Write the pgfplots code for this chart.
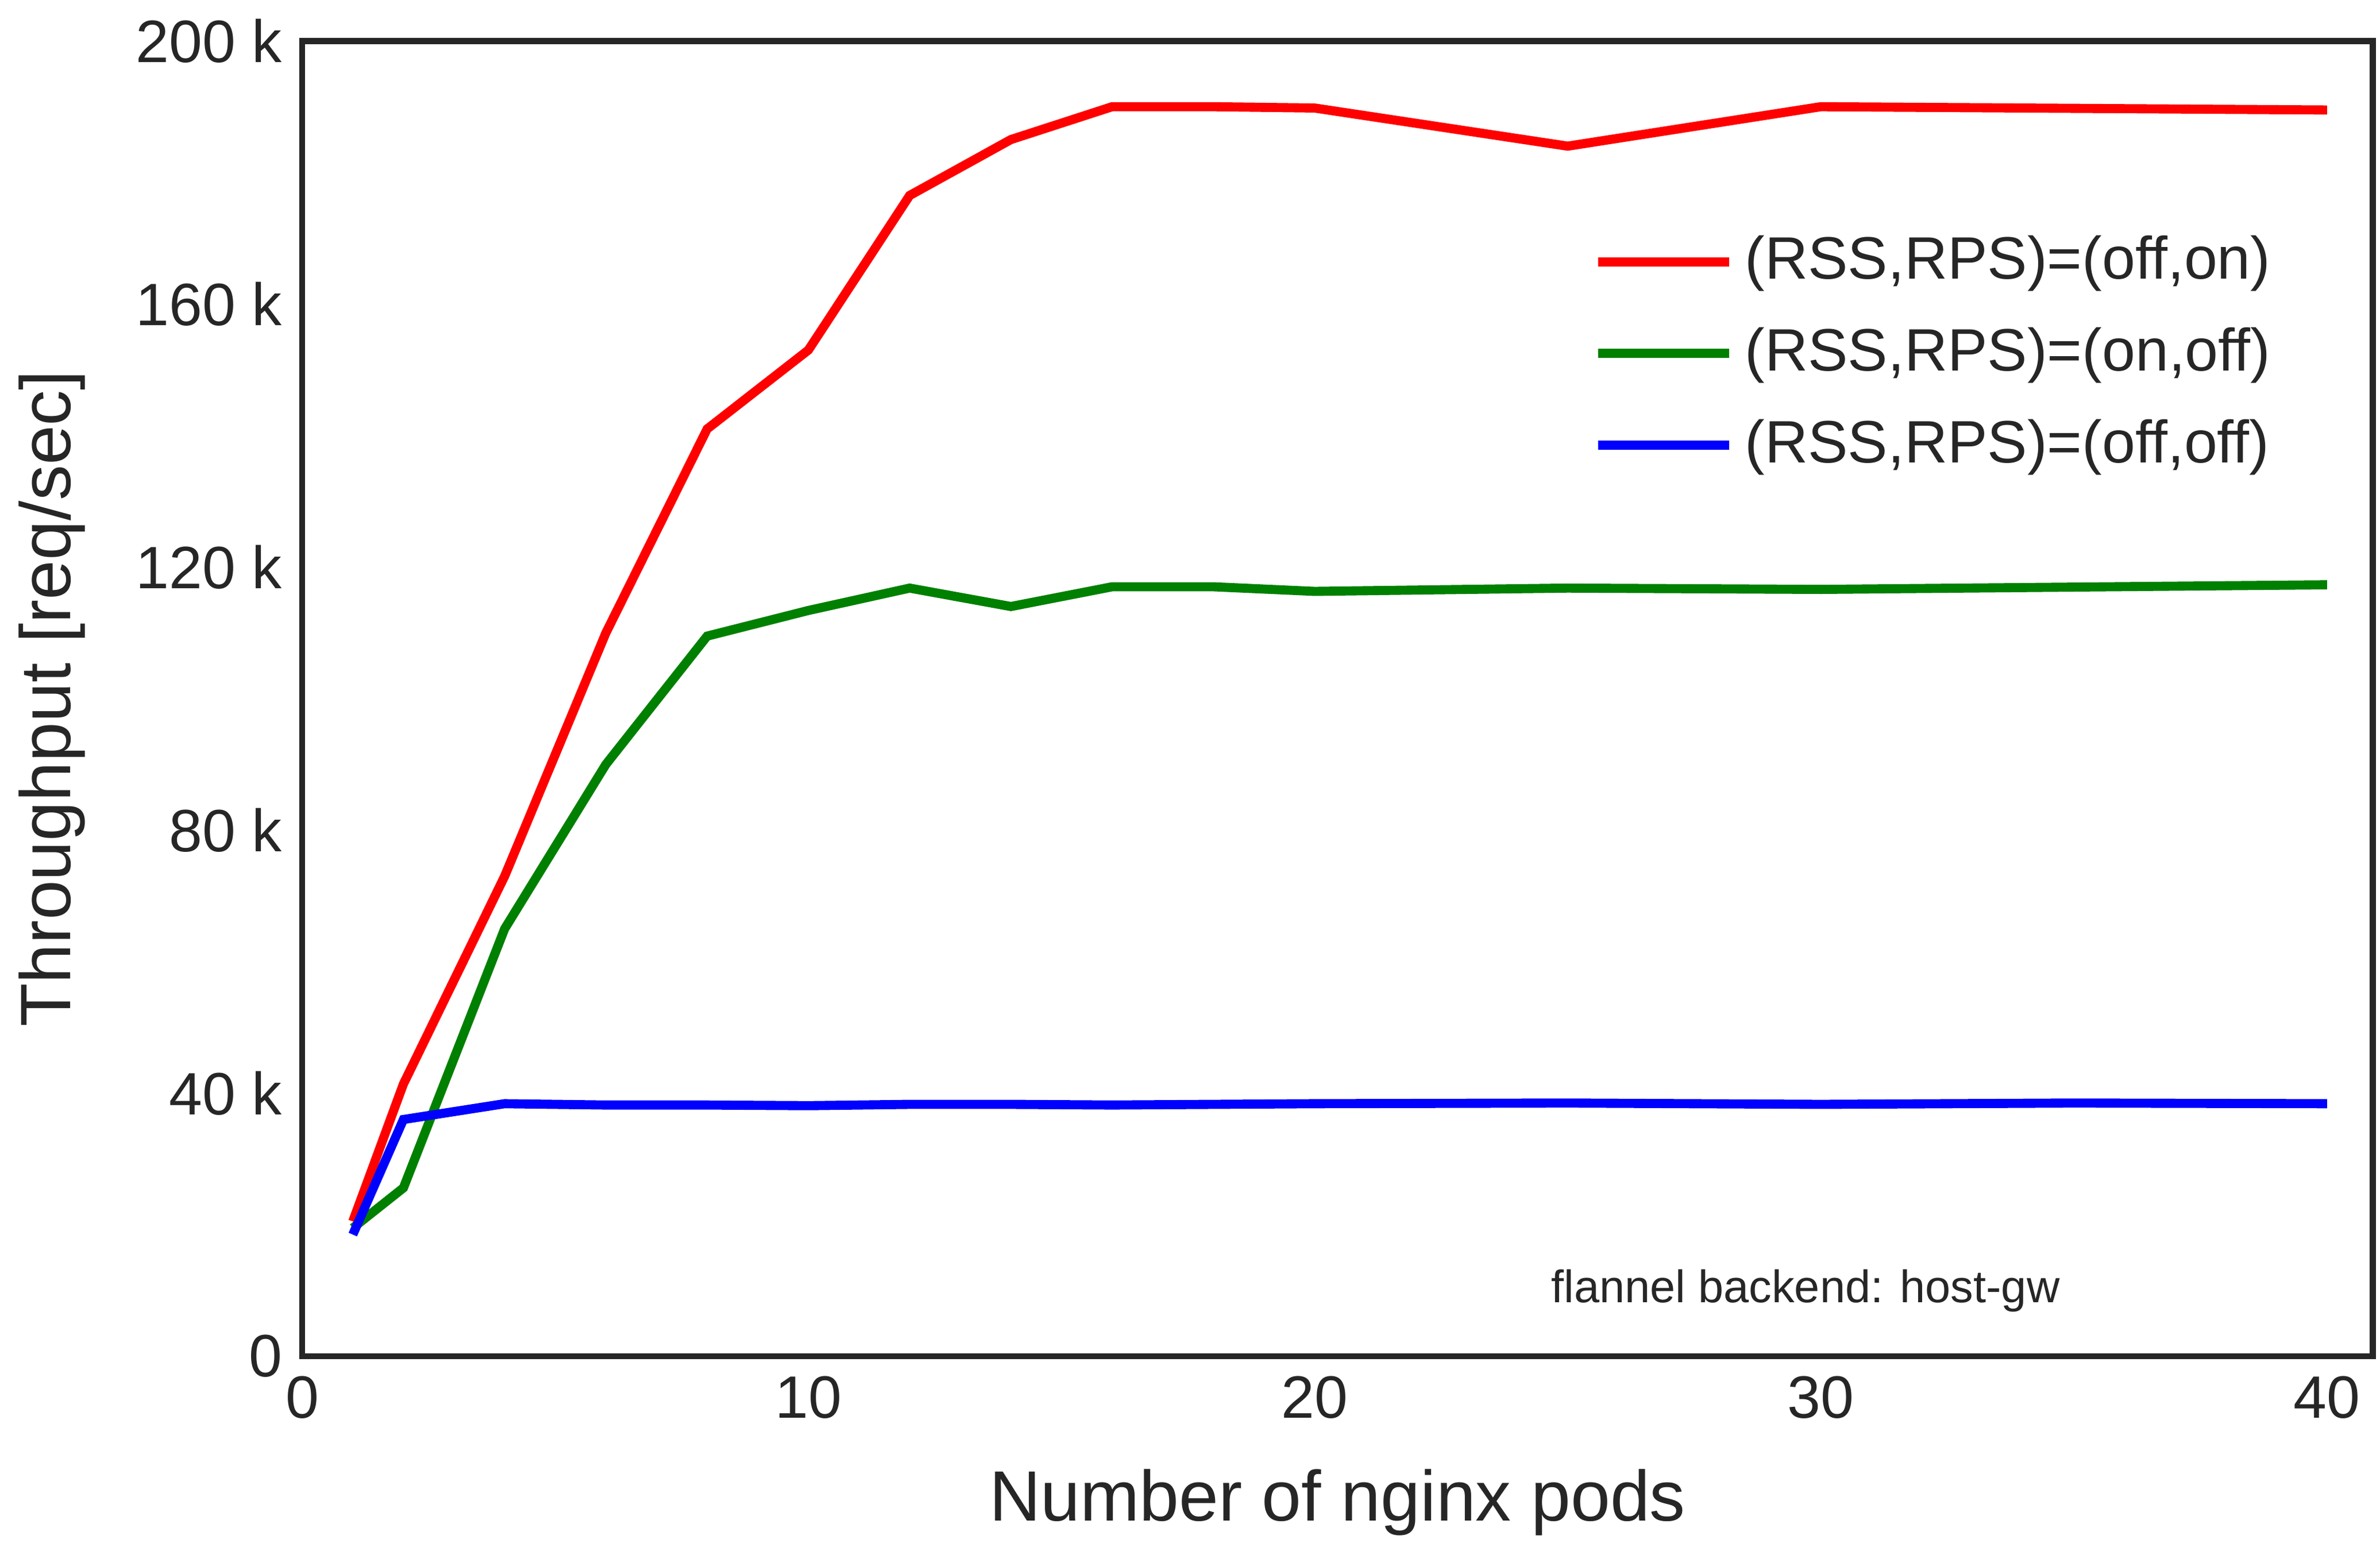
\documentclass[border=0pt]{standalone}
\usepackage{fontspec}
\setmainfont{Liberation Sans}
\usepackage{pgfplots}
\pgfplotsset{compat=1.18}
\definecolor{axgray}{RGB}{38,38,38}
\begin{document}
\begin{tikzpicture}
\path (0,0) rectangle (414.3pt,268.9pt);
\begin{axis}[at={(49.4pt,32.9pt)},anchor=south west,
 scale only axis, width=363.6pt, height=231pt,
 xmin=0, xmax=40.9, ymin=0, ymax=200,
 xtick={0,10,20,30,40}, ytick={0,40,80,120,160,200},
 yticklabel={\ifdim\tick pt=0pt 0\else\pgfmathprintnumber{\tick}~k\fi},
 /pgf/number format/assume math mode=true,
 major tick length=0pt,
 axis line style={axgray, line width=1.1pt},
 tick label style={font=\fontsize{10.5}{12}\selectfont, text=axgray},
 label style={font=\fontsize{12.5}{14}\selectfont, text=axgray},
 xlabel={Number of nginx pods}, ylabel={Throughput [req/sec]},
 xlabel style={yshift=-2pt}, ylabel style={yshift=2pt},
 legend style={draw=none, fill=none, at={(0.965,0.87)}, anchor=north east,
   font=\fontsize{10.5}{12}\selectfont, text=axgray, row sep=3pt},
 legend cell align=left,
 legend image code/.code={\draw[#1] (0pt,0pt) -- (23pt,0pt);},
 every axis plot/.append style={line width=1.6pt},
]
\addplot[red] coordinates {(1,20.5)(2,41.4)(4,73)(6,110)(8,141)(10,153)(12,176.5)(14,185)(16,190)(18,190)(20,189.8)(25,184)(30,190)(40,189.5)};
\addlegendentry{(RSS,RPS)=(off,on)}
\addplot[green!50!black] coordinates {(1,19.5)(2,25.6)(4,65)(6,90)(8,109.5)(10,113.4)(12,116.8)(14,114)(16,117)(18,117)(20,116.3)(25,116.8)(30,116.6)(40,117.3)};
\addlegendentry{(RSS,RPS)=(on,off)}
\addplot[blue] coordinates {(1,18.5)(2,36)(4,38.4)(6,38.2)(8,38.2)(10,38.1)(12,38.3)(14,38.3)(16,38.2)(20,38.4)(25,38.5)(30,38.3)(35,38.5)(40,38.4)};
\addlegendentry{(RSS,RPS)=(off,off)}
\node[font=\fontsize{8}{10}\selectfont, text=axgray] at (axis cs:29.7,10) {flannel backend: host-gw};
\end{axis}
\end{tikzpicture}
\end{document}
